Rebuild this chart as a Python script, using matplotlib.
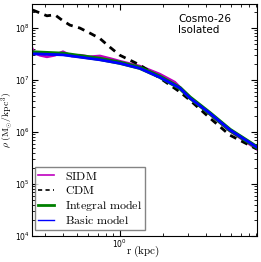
import numpy as np
import matplotlib
matplotlib.use("Agg")
import matplotlib.pyplot as plt

plt.rcParams['mathtext.fontset'] = 'cm'
plt.rcParams['mathtext.default'] = 'rm'

# radius (kpc) and density (Msun/kpc^3)
r_cdm = [0.246, 0.309, 0.351, 0.393, 0.447, 0.525, 0.617, 0.725, 0.851, 1.0,
         1.38, 1.90, 2.63, 3.09, 4.26, 5.88, 9.08]
rho_cdm = [2.22e8, 1.72e8, 1.80e8, 1.43e8, 1.14e8, 1.0e8, 8.0e7, 6.3e7, 4.3e7, 3.0e7,
           1.95e7, 1.1e7, 5.9e6, 4.1e6, 1.86e6, 8.7e5, 4.7e5]

r_sidm = [0.243, 0.250, 0.276, 0.309, 0.351, 0.40, 0.46, 0.525, 0.617, 0.725, 0.85,
          1.0, 1.38, 1.9, 2.42, 3.09, 4.26, 5.88, 9.08]
rho_sidm = [4.1e7, 3.4e7, 3.0e7, 2.8e7, 3.0e7, 3.5e7, 2.9e7, 3.0e7, 2.8e7, 2.9e7, 2.6e7,
            2.3e7, 1.85e7, 1.3e7, 9.1e6, 4.6e6, 2.2e6, 1.05e6, 4.7e5]

r_model = [0.243, 0.40, 0.725, 1.0, 1.38, 1.90, 2.63, 3.09, 4.26, 5.88, 9.08]
rho_integral = [3.4e7, 3.2e7, 2.55e7, 2.15e7, 1.72e7, 1.16e7, 7.0e6, 4.6e6, 2.3e6, 1.1e6, 5.1e5]
rho_basic = [3.2e7, 3.05e7, 2.45e7, 2.1e7, 1.68e7, 1.13e7, 7.0e6, 4.5e6, 2.3e6, 1.1e6, 5.1e5]

fig = plt.figure(figsize=(2.61, 2.62), dpi=100)
ax = fig.add_axes([0.1226, 0.0992, 0.8621, 0.8855])

ax.plot(r_sidm, rho_sidm, color='m', lw=2, label=r'$\mathrm{SIDM}$')
ax.plot(r_cdm, rho_cdm, color='k', lw=2, ls='--', dashes=(2.5, 2), label=r'$\mathrm{CDM}$')
ax.plot(r_model, rho_integral, color='g', lw=3, label=r'$\mathrm{Integral\ model}$')
ax.plot(r_model, rho_basic, color='b', lw=2, label=r'$\mathrm{Basic\ model}$')

ax.set_xscale('log')
ax.set_yscale('log')
ax.set_xlim(0.243, 9.1)
ax.set_ylim(1e4, 2.9e8)

ax.tick_params(which='both', direction='in', top=True, right=True, labelsize=5.5)
ax.tick_params(axis='x', pad=1.5)
ax.tick_params(axis='y', pad=1.5)
ax.tick_params(which='major', length=4)
ax.tick_params(which='minor', length=2)

ax.set_xlabel(r'$r\ (\mathrm{kpc})$', fontsize=8)
ax.set_ylabel(r'$\rho\ (\mathrm{M}_{\odot}/\mathrm{kpc}^3)$', fontsize=7)
ax.xaxis.set_label_coords(0.493, -0.035)
ax.yaxis.set_label_coords(-0.074, 0.50)

ax.text(0.65, 0.955, 'Cosmo-26\nIsolated', transform=ax.transAxes, fontsize=7.5,
        va='top', ha='left', linespacing=1.05)

leg = ax.legend(loc='lower left', bbox_to_anchor=(0.012, 0.025), borderaxespad=0,
                fontsize=8.6, frameon=True, fancybox=False, handlelength=1.4,
                handletextpad=0.85, labelspacing=0.1, borderpad=0.25)
leg.get_frame().set_edgecolor('0.4')
for h, w in zip(leg.get_lines(), [1.2, 1.2, 2.0, 1.0]):
    h.set_linewidth(w)

fig.savefig('out.png', dpi=100)
